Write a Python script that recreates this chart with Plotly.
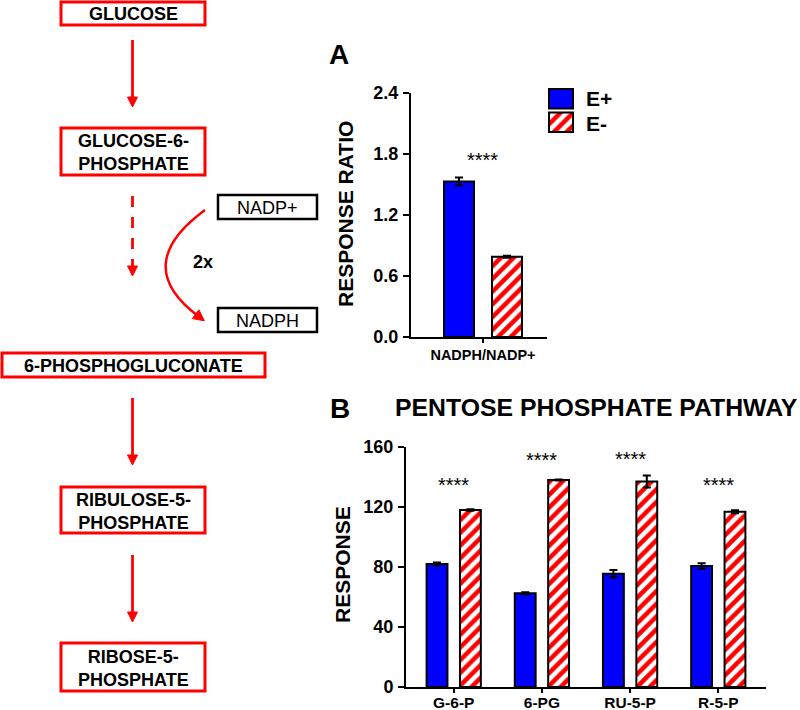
import plotly.graph_objects as go

W, H = 800, 710

# ---------------- data ----------------
series_names = ["E+", "E-"]

a_category = ["NADPH/NADP+"]
a_eplus = [1.53]
a_eplus_err = [0.04]
a_eminus = [0.79]
a_eminus_err = [0.01]
a_sig = ["****"]
a_ticks = [0, 0.6, 1.2, 1.8, 2.4]

b_categories = ["G-6-P", "6-PG", "RU-5-P", "R-5-P"]
b_eplus = [82.0, 62.5, 75.5, 80.7]
b_eplus_err = [1.0, 0.6, 2.5, 1.8]
b_eminus = [118.0, 138.0, 137.0, 116.8]
b_eminus_err = [0.5, 0.3, 4.0, 1.0]
b_sig = ["****", "****", "****", "****"]
b_ticks = [0, 40, 80, 120, 160]

pathway_steps = ["GLUCOSE", "GLUCOSE-6-<br>PHOSPHATE", "6-PHOSPHOGLUCONATE",
                 "RIBULOSE-5-<br>PHOSPHATE", "RIBOSE-5-<br>PHOSPHATE"]
cofactors = ["NADP+", "NADPH"]
cofactor_factor = "2x"

panel_a_title = "RESPONSE RATIO"
panel_b_title = "RESPONSE"
panel_b_header = "PENTOSE PHOSPHATE PATHWAY"

# ---------------- style ----------------
FONT = "Liberation Sans, Arial, sans-serif"
BLUE = "#0000FF"
RED = "#FF0000"
LW = 2


def px(x):
    return x / W


def py(y):
    return 1 - y / H


def plus_style():
    return dict(color=BLUE, line=dict(color="black", width=LW))


def minus_style():
    return dict(color="white", line=dict(color="black", width=LW),
                pattern=dict(shape="/", fgcolor=RED, bgcolor="white", fgopacity=1,
                             size=9, solidity=0.5, fillmode="overlay"))


def err(arr):
    return dict(type="data", array=arr, color="black", thickness=2, width=4)


fig = go.Figure()

# Panel A
fig.add_trace(go.Bar(x=a_category, y=a_eplus, error_y=err(a_eplus_err), name=series_names[0],
                     marker=plus_style(), xaxis="x", yaxis="y", showlegend=False))
fig.add_trace(go.Bar(x=a_category, y=a_eminus, error_y=err(a_eminus_err), name=series_names[1],
                     marker=minus_style(), xaxis="x", yaxis="y", showlegend=False))

# Panel B
fig.add_trace(go.Bar(x=b_categories, y=b_eplus, error_y=err(b_eplus_err), name=series_names[0],
                     marker=plus_style(), xaxis="x2", yaxis="y2", showlegend=False))
fig.add_trace(go.Bar(x=b_categories, y=b_eminus, error_y=err(b_eminus_err), name=series_names[1],
                     marker=minus_style(), xaxis="x2", yaxis="y2", showlegend=False))

# Legend swatches (hidden axes)
legend_order = list(reversed(series_names))
fig.add_trace(go.Bar(y=[series_names[0]], x=[1], orientation="h", marker=plus_style(),
                     width=0.82, offset=-0.41, xaxis="x3", yaxis="y3", showlegend=False,
                     hoverinfo="skip"))
fig.add_trace(go.Bar(y=[series_names[1]], x=[1], orientation="h", marker=minus_style(),
                     width=0.82, offset=-0.41, xaxis="x3", yaxis="y3", showlegend=False,
                     hoverinfo="skip"))

axis_common = dict(showgrid=False, zeroline=False, showline=True, linecolor="black",
                   linewidth=LW, tickcolor="black", tickwidth=LW, ticklen=6, automargin=False,
                   tickfont=dict(family=FONT, size=18, color="black", weight="bold"))

xaxis_common = dict(showgrid=False, zeroline=False, showline=True, linecolor="black",
                    linewidth=LW, ticks="outside", tickcolor="black", tickwidth=LW, ticklen=4,
                    automargin=False)

layout = dict(
    width=W, height=H,
    margin=dict(l=0, r=0, t=0, b=0, pad=0, autoexpand=False),
    paper_bgcolor="white", plot_bgcolor="white",
    barmode="group", bargap=0.243, bargroupgap=0.375,
    showlegend=False,
    font=dict(family=FONT, color="black"),
    xaxis=dict(domain=[px(411), px(547)], anchor="y", range=[-0.568, 0.505],
               tickfont=dict(family=FONT, size=14.5, color="black", weight="bold"),
               **xaxis_common),
    yaxis=dict(domain=[py(337), py(93)], anchor="x", range=[0, 2.4],
               tickvals=a_ticks, tickformat=".1f", ticks="outside",
               ticklabelstandoff=1, **axis_common),
    xaxis2=dict(domain=[px(406), px(766)], anchor="y2", range=[-0.541, 3.541],
                ticklabelstandoff=-4,
                tickfont=dict(family=FONT, size=15.5, color="black", weight="bold"),
                **xaxis_common),
    yaxis2=dict(domain=[py(687), py(447)], anchor="x2", range=[0, 160],
                tickvals=b_ticks, ticks="outside", ticklabelstandoff=1, **axis_common),
    xaxis3=dict(domain=[px(548), px(574)], anchor="y3", range=[-0.04, 1.04], visible=False,
                automargin=False),
    yaxis3=dict(domain=[py(134), py(87)], anchor="x3", range=[-0.5, 1.5],
                categoryorder="array", categoryarray=legend_order, visible=False,
                automargin=False),
)
fig.update_layout(**layout)

annotations = []
shapes = []

# significance stars
star_y_a = [1.74]
for c, s, yy in zip(a_category, a_sig, star_y_a):
    annotations.append(dict(x=c, y=yy, xref="x", yref="y", text=s, showarrow=False,
                            font=dict(family=FONT, size=20, color="black")))
star_y_b = [135.0, 151.5, 152.2, 135.0]
for c, s, yy in zip(b_categories, b_sig, star_y_b):
    annotations.append(dict(x=c, y=yy, xref="x2", yref="y2", text=s, showarrow=False,
                            font=dict(family=FONT, size=20, color="black")))

# legend labels
for name, yc in zip(series_names, [98, 123]):
    annotations.append(dict(x=px(584), y=py(yc), xref="paper", yref="paper", text=name,
                            xanchor="left", yanchor="middle", showarrow=False,
                            font=dict(family=FONT, size=21, color="black", weight="bold")))


# panel letters, titles
def text_px(x, y, t, size, angle=0, xanchor="center", weight="bold"):
    annotations.append(dict(x=px(x), y=py(y), xref="paper", yref="paper", text=t,
                            textangle=angle, xanchor=xanchor, yanchor="middle",
                            showarrow=False,
                            font=dict(family=FONT, size=size, color="black", weight=weight)))


text_px(339, 54, "A", 28)
text_px(340, 408, "B", 28)
text_px(393, 407, panel_b_header, 24.8, xanchor="left")
text_px(345, 214, panel_a_title, 21, angle=-90)
text_px(342, 565, panel_b_title, 21, angle=-90)

# pathway boxes
boxes = [(61, 2, 205, 25), (61, 128, 205, 175), (2, 353, 265, 377),
         (61, 487, 205, 533), (61, 643, 205, 691)]
for (x0, y0, x1, y1), label in zip(boxes, pathway_steps):
    shapes.append(dict(type="rect", xref="paper", yref="paper", x0=px(x0), x1=px(x1),
                       y0=py(y1), y1=py(y0), line=dict(color=RED, width=3),
                       fillcolor="white", layer="below"))
    text_px((x0 + x1) / 2, (y0 + y1) / 2 + 1, label, 18)

cof_boxes = [(218, 195, 317, 219), (218, 308, 317, 332)]
for (x0, y0, x1, y1), label in zip(cof_boxes, cofactors):
    shapes.append(dict(type="rect", xref="paper", yref="paper", x0=px(x0), x1=px(x1),
                       y0=py(y1), y1=py(y0), line=dict(color="black", width=2.5),
                       fillcolor="white", layer="below"))
    text_px((x0 + x1) / 2, (y0 + y1) / 2 + 1, label, 18, weight="normal")

text_px(203, 262, cofactor_factor, 18)


def head(tx, ty, dx, dy, length=10, half=5):
    bx, by = tx - dx * length, ty - dy * length
    p1 = (bx - dy * half, by + dx * half)
    p2 = (bx + dy * half, by - dx * half)
    path = "M {},{} L {},{} L {},{} Z".format(px(tx), py(ty), px(p1[0]), py(p1[1]),
                                               px(p2[0]), py(p2[1]))
    shapes.append(dict(type="path", xref="paper", yref="paper", path=path,
                       fillcolor=RED, line=dict(color=RED, width=1)))


def vline(x, y0, y1, dash="solid"):
    shapes.append(dict(type="line", xref="paper", yref="paper", x0=px(x), x1=px(x),
                       y0=py(y0), y1=py(y1), line=dict(color=RED, width=2.8, dash=dash)))


AX = 132.5
vline(AX, 40, 99)
head(AX, 107, 0, 1)
vline(AX, 196, 268, dash="11px,10px")
head(AX, 276, 0, 1)
vline(AX, 398, 457)
head(AX, 465, 0, 1)
vline(AX, 555, 614)
head(AX, 622, 0, 1)

# curved arrow NADP+ -> NADPH
sx, sy, cx, cy, ex, ey = 205, 210, 130, 265, 198, 316
shapes.append(dict(type="path", xref="paper", yref="paper",
                   path="M {},{} Q {},{} {},{}".format(px(sx), py(sy), px(cx), py(cy),
                                                       px(ex), py(ey)),
                   line=dict(color=RED, width=2.5)))
dx, dy = ex - cx, ey - cy
n = (dx * dx + dy * dy) ** 0.5
head(ex + dx / n * 8, ey + dy / n * 8, dx / n, dy / n, length=11, half=5.5)

fig.update_layout(annotations=annotations, shapes=shapes)
fig.write_html("out.html", config={"displayModeBar": False},
               post_script="document.body.style.margin='0px';document.body.style.overflow='hidden';")
